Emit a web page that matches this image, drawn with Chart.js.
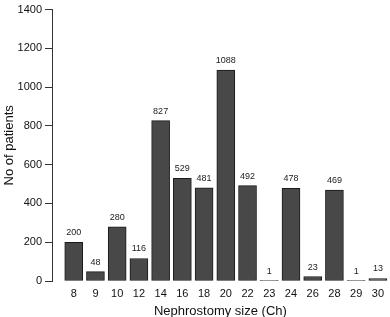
<!DOCTYPE html>
<html>
<head>
<meta charset="utf-8">
<script src="https://cdn.jsdelivr.net/npm/chart.js@4/dist/chart.umd.min.js"></script>
<style>
html,body{margin:0;padding:0;background:#fff;}
#wrap{width:390px;height:317px;position:relative;}
</style>
</head>
<body>
<div id="wrap"><canvas id="c" width="390" height="317"></canvas></div>
<script>
const categories = ["8","9","10","12","14","16","18","20","22","23","24","26","28","29","30"];
const patients = [200,48,280,116,827,529,481,1088,492,1,478,23,469,1,13];
const yTicks = [0,200,400,600,800,1000,1200,1400];

const FONT = "'Liberation Sans', Arial, Helvetica, sans-serif";

const valueLabels = {
  id: 'valueLabels',
  afterDatasetsDraw(chart) {
    const ctx = chart.ctx;
    const meta = chart.getDatasetMeta(0);
    ctx.save();
    ctx.font = "9px " + FONT;
    ctx.fillStyle = "#222";
    ctx.textAlign = "center";
    ctx.textBaseline = "bottom";
    meta.data.forEach((el, i) => {
      ctx.fillText(String(patients[i]), el.x, el.y - 5);
    });
    ctx.restore();
  }
};

new Chart(document.getElementById('c'), {
  type: 'bar',
  data: {
    datasets: [{
      data: patients.map((v, i) => ({x: i, y: v})),
      backgroundColor: '#484848',
      borderColor: '#1a1a1a',
      borderWidth: 1,
      borderSkipped: false,
      barThickness: 18
    }]
  },
  options: {
    responsive: false,
    animation: false,
    layout: {padding: {top: 7, right: 0, left: 0, bottom: 0}},
    plugins: {legend: {display: false}, tooltip: {enabled: false}},
    scales: {
      x: {
        type: 'linear',
        offset: false,
        min: -1,
        max: 14.5,
        grid: {display: false, drawTicks: false, tickLength: 0},
        border: {display: false},
        afterBuildTicks(scale) {
          scale.ticks = categories.map((c, i) => ({value: i}));
        },
        ticks: {
          autoSkip: false,
          maxRotation: 0,
          padding: 6,
          color: '#111',
          font: {family: FONT, size: 11},
          callback: (v) => categories[v] !== undefined ? categories[v] : ''
        },
        title: {
          display: true,
          text: 'Nephrostomy size (Ch)',
          color: '#111',
          font: {family: FONT, size: 13},
          padding: {top: 2, bottom: -2}
        },
        afterFit(scale) { scale.height = 36; }
      },
      y: {
        min: 0,
        max: 1400,
        afterBuildTicks(scale) {
          scale.ticks = yTicks.map(v => ({value: v}));
        },
        grid: {drawOnChartArea: false, drawTicks: true, tickLength: 7, color: '#333'},
        border: {display: true, color: '#333', width: 1},
        ticks: {
          padding: 3,
          color: '#111',
          font: {family: FONT, size: 11},
          callback: (v) => String(v)
        },
        title: {
          display: true,
          text: 'No of patients',
          color: '#111',
          font: {family: FONT, size: 13},
          padding: {top: 2, bottom: 0}
        },
        afterFit(scale) { scale.width = 52; }
      }
    }
  },
  plugins: [valueLabels]
});
</script>
</body>
</html>
